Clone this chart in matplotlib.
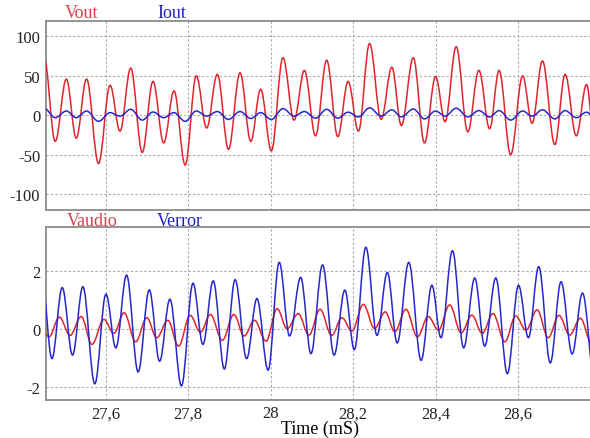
import numpy as np
import matplotlib
matplotlib.use("Agg")
import matplotlib.pyplot as plt
from matplotlib.path import Path
from matplotlib.patches import PathPatch
from matplotlib.ticker import FuncFormatter

plt.rcParams["font.family"] = ["Liberation Serif", "DejaVu Serif"]
plt.rcParams["axes.unicode_minus"] = False

# turning points of each trace (time in ms, value)
vout_t = [27.451, 27.478, 27.505, 27.529, 27.554, 27.583, 27.611, 27.635, 27.661, 27.689,
          27.715, 27.741, 27.766, 27.793, 27.820, 27.845, 27.871, 27.898, 27.926, 27.952,
          27.976, 28.002, 28.030, 28.057, 28.082, 28.109, 28.136, 28.163, 28.188, 28.213,
          28.240, 28.268, 28.294, 28.317, 28.346, 28.373, 28.400, 28.423, 28.450, 28.478,
          28.505, 28.531, 28.554, 28.582, 28.611, 28.634, 28.659, 28.689, 28.714, 28.741,
          28.766, 28.788]
vout_v = [74, -33, 46, -29, 46, -61, 38, -20, 60, -47,
          43, -35, 31, -63, 50, -16, 52, -43, 54, -33,
          33, -45, 73, -6, 57, -26, 70, -27, 43, -20,
          91, -5, 61, -13, 73, -35, 49, -8, 87, -21,
          57, -17, 57, -50, 50, -10, 69, -37, 52, -26,
          39, -52]
iout_v = [9, -3, 5.5, -3, 5.5, -7.6, 3.4, -1, 7.6, -6,
          4.2, -3, 3.4, -7.6, 5.5, -1, 4.8, -5.2, 4.8, -4,
          3.4, -5.2, 8.5, -1, 4.8, -3.6, 7.6, -3.6, 4, -2,
          9.5, -1, 7, -2, 8, -4.5, 5.5, -1, 9, -2,
          6, -2, 6, -6, 5.5, -1, 7, -4.5, 6, -3,
          4, -5]

verror_t = [27.446, 27.470, 27.495, 27.520, 27.545, 27.574, 27.601, 27.625, 27.651, 27.679,
            27.706, 27.731, 27.756, 27.784, 27.812, 27.836, 27.861, 27.888, 27.914, 27.942,
            27.967, 27.994, 28.021, 28.046, 28.073, 28.098, 28.126, 28.154, 28.180, 28.203,
            28.231, 28.258, 28.283, 28.307, 28.335, 28.365, 28.391, 28.413, 28.441, 28.468,
            28.495, 28.519, 28.546, 28.574, 28.601, 28.625, 28.650, 28.678, 28.704, 28.731,
            28.756, 28.786]
verror_v = [1.7, -1.03, 1.42, -0.91, 1.45, -1.9, 1.19, -0.66, 1.85, -1.49,
            1.34, -1.12, 1.02, -1.97, 1.57, -0.54, 1.65, -1.39, 1.69, -1.03,
            1.04, -1.43, 2.29, -0.25, 1.77, -0.86, 2.2, -0.91, 1.33, -0.72,
            2.81, -0.23, 1.94, -0.49, 2.29, -1.09, 1.5, -0.31, 2.69, -0.66,
            1.75, -0.6, 1.75, -1.55, 1.5, -0.31, 2.14, -1.18, 1.62, -0.87,
            1.23, -1.8]

vaudio_t = [27.436, 27.463, 27.488, 27.514, 27.541, 27.567, 27.596, 27.620, 27.645, 27.673,
            27.700, 27.724, 27.751, 27.777, 27.805, 27.830, 27.854, 27.883, 27.911, 27.936,
            27.961, 27.989, 28.016, 28.040, 28.067, 28.093, 28.120, 28.148, 28.173, 28.197,
            28.225, 28.252, 28.278, 28.301, 28.328, 28.356, 28.382, 28.407, 28.434, 28.462,
            28.488, 28.513, 28.539, 28.568, 28.594, 28.619, 28.646, 28.673, 28.699, 28.725,
            28.751, 28.778, 28.803]
vaudio_v = [0.4, -0.28, 0.40, -0.23, 0.42, -0.54, 0.32, -0.16, 0.55, -0.45,
            0.38, -0.31, 0.29, -0.6, 0.46, -0.12, 0.49, -0.4, 0.49, -0.25,
            0.29, -0.43, 0.69, 0.0, 0.52, -0.22, 0.67, -0.23, 0.38, -0.08,
            0.84, 0.01, 0.58, -0.1, 0.67, -0.28, 0.42, -0.05, 0.82, -0.14,
            0.47, -0.16, 0.52, -0.45, 0.44, -0.05, 0.65, -0.31, 0.46, -0.22,
            0.36, -0.51, 0.3]

time_ticks = [27.6, 27.8, 28.0, 28.2, 28.4, 28.6]

RED = "#e0262c"
BLUE = "#2626cc"
GRID = "#a8a8a8"
FRAME = "#8c8c8c"


def wave(ax, t, v, color):
    # smooth swing between turning points: cubic bezier, flat at each extreme
    verts = [(t[0], v[0])]
    codes = [Path.MOVETO]
    for i in range(len(t) - 1):
        dt = t[i + 1] - t[i]
        verts += [(t[i] + 0.364 * dt, v[i]), (t[i + 1] - 0.364 * dt, v[i + 1]), (t[i + 1], v[i + 1])]
        codes += [Path.CURVE4] * 3
    ax.add_patch(PathPatch(Path(verts, codes), fill=False, edgecolor=color, lw=1.1, zorder=3))


def style(ax):
    ax.set_xlim(27.455, 28.785)
    ax.set_xticks(time_ticks)
    ax.grid(True, color=GRID, linestyle=(0, (2, 2)), linewidth=0.8)
    ax.tick_params(length=0, labelsize=12, colors="#222222", pad=4)
    for side in ["left", "top", "bottom"]:
        ax.spines[side].set_color(FRAME)
        ax.spines[side].set_linewidth(1.3)
    ax.spines["right"].set_visible(False)


fig = plt.figure(figsize=(5.9, 4.39), dpi=100)
ax1 = fig.add_axes([0.0775, 0.5194, 0.93, 0.4312])
ax2 = fig.add_axes([0.0775, 0.0872, 0.93, 0.3928])

wave(ax1, vout_t, vout_v, RED)
wave(ax1, vout_t, iout_v, BLUE)
style(ax1)
ax1.set_ylim(-120, 120)
ax1.set_yticks([-100, -50, 0, 50, 100])
ax1.tick_params(labelbottom=False)

wave(ax2, vaudio_t, vaudio_v, RED)
wave(ax2, verror_t, verror_v, BLUE)
style(ax2)
ax2.set_ylim(-2.45, 3.5)
ax2.set_yticks([-2, 0, 2])
ax2.xaxis.set_major_formatter(FuncFormatter(lambda x, p: f"{x:g}".replace(".", ",")))
ax2.set_xlabel("Time (mS)", fontsize=13, labelpad=-1)

fig.text(82 / 590, 1 - 13 / 439, "Vout", color="#d8404a", fontsize=13, ha="center", va="center")
fig.text(172 / 590, 1 - 13 / 439, "Iout", color="#2020c0", fontsize=13, ha="center", va="center")
fig.text(92 / 590, 1 - 221 / 439, "Vaudio", color="#d8404a", fontsize=13, ha="center", va="center")
fig.text(180 / 590, 1 - 221 / 439, "Verror", color="#2020c0", fontsize=13, ha="center", va="center")

fig.savefig("out.png", dpi=100)
